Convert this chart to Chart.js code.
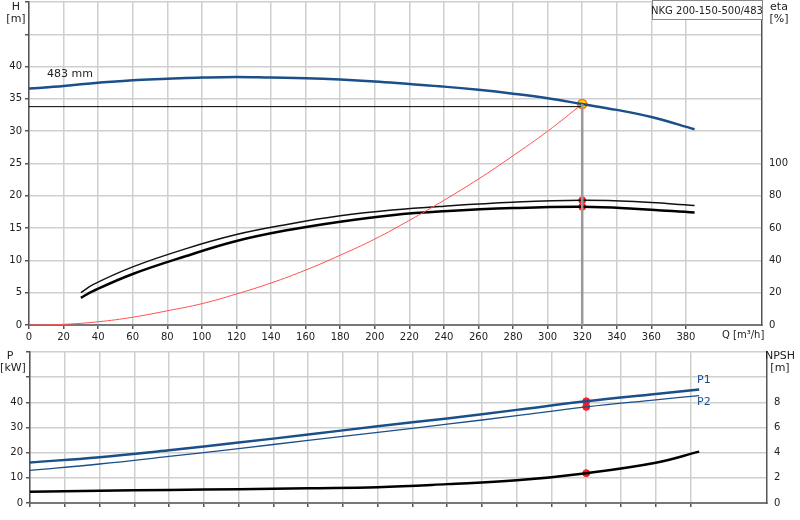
<!DOCTYPE html>
<html><head><meta charset="utf-8">
<script src="https://cdn.jsdelivr.net/npm/chart.js@4.4.1/dist/chart.umd.min.js"></script>
<style>body{margin:0;background:#fff;width:800px;height:520px;position:relative;overflow:hidden;font-family:"DejaVu Sans",sans-serif}
#c1{position:absolute;left:0;top:-7px}#c2{position:absolute;left:0;top:343px}</style></head>
<body><canvas id="c1" width="800" height="352"></canvas><canvas id="c2" width="800" height="177"></canvas>
<script>
// Head curve 483 mm
const qH=[0,20,40,60,80,100,120,140,160,180,200,220,240,260,280,300,320,340,360,385];
const head=[36.6,37.0,37.5,37.9,38.1,38.3,38.4,38.3,38.2,38.0,37.7,37.3,36.9,36.4,35.8,35.1,34.2,33.3,32.2,30.3];
// Efficiency curves (%)
const qEta=[30,37,60,90,120,150,180,210,240,280,320,350,385];
const etaUpper=[20,25,36,47,56,62.4,67.6,71.2,73.6,76,77.2,76.4,74];
const etaLower=[16.8,21,31.6,42.4,52,58.8,64,68,70.4,72.4,73.2,72,69.6];
// System curve
const qSys=[0,20,40,60,80,100,120,140,160,180,200,220,240,260,280,300,320];
const hSys=[0,0.1,0.5,1.2,2.2,3.3,4.8,6.5,8.5,10.8,13.3,16.2,19.3,22.6,26.2,30.0,34.2];
// Power
const qP=[0,40,80,120,160,200,240,280,320,360,385];
const p1=[16.1,18.2,21.0,24.0,27.2,30.5,33.6,37.0,40.4,43.3,45.1];
const p2=[13.0,15.5,18.5,21.6,24.9,28.1,31.3,34.7,38.2,41.0,42.7];
// NPSH
const qN=[0,40,80,120,160,200,240,280,320,360,385];
const npsh=[0.89,0.98,1.04,1.1,1.18,1.26,1.5,1.8,2.37,3.2,4.08];
const dutyQ=320, dutyH=34.2, dutyHline=33.8, dutyEta=[77.2,73.2], dutyP=[40.4,38.2], dutyN=2.37;
const xTicks=[0,20,40,60,80,100,120,140,160,180,200,220,240,260,280,300,320,340,360,380];

const pts=(xs,ys)=>xs.map((x,i)=>({x,y:ys[i]}));
const G='#cfcfcf';
const txt=(items,box)=>({id:'t',afterDraw(c){const g=c.ctx;g.save();g.font='11px "DejaVu Sans"';
 items.forEach(t=>{g.fillStyle=t.c||'#222';g.textAlign=t.a||'left';g.fillText(t.s,t.x,t.y);});
 if(box){g.fillStyle='#fff';g.strokeStyle='#888';g.lineWidth=1;g.fillRect(652.5,7.5,110,19);g.strokeRect(652.5,7.5,110,19);g.fillStyle='#222';g.font='10px "DejaVu Sans"';g.textAlign='center';g.fillText('NKG 200-150-500/483',707,21);}
 g.restore();}});
const fit=(w)=>function(s){s.width=w;};
const xAxis=(labels)=>({type:'linear',min:0,max:424,afterBuildTicks(s){s.ticks=xTicks.map(v=>({value:v}));},
 ticks:{display:labels,autoSkip:false,maxRotation:0,color:'#222',font:{size:10,family:'DejaVu Sans'},padding:2},
 grid:{color:G,lineWidth:1.5,tickLength:4,tickColor:'#555'},border:{color:'#777',width:2}});
const ln=(data,color,w,yID)=>({data,borderColor:color,borderWidth:w,pointRadius:0,tension:0.4,fill:false,yAxisID:yID});

new Chart(document.getElementById('c1'),{type:'line',
 data:{datasets:[
  {data:[{x:dutyQ,y:0},{x:dutyQ,y:dutyH}],borderColor:'#999',borderWidth:2.5,pointRadius:0,yAxisID:'y'},
  {data:[{x:0,y:dutyHline},{x:dutyQ,y:dutyHline}],borderColor:'#000',borderWidth:1,pointRadius:0,yAxisID:'y'},
  ln(pts(qSys,hSys),'#ff5050',1,'y'),
  ln(pts(qEta,etaUpper),'#111',1.5,'e'),
  ln(pts(qEta,etaLower),'#000',2.5,'e'),
  ln(pts(qH,head),'#1a4f8a',2.5,'y'),
  {data:[{x:dutyQ,y:dutyEta[0]},{x:dutyQ,y:dutyEta[1]}],showLine:false,pointRadius:3.5,pointBackgroundColor:'#ff1a1a',pointBorderColor:'#ff1a1a',yAxisID:'e'},
  {data:[{x:dutyQ,y:dutyH}],showLine:false,pointRadius:4.5,pointBackgroundColor:'#ffe000',pointBorderColor:'#ff6a00',pointBorderWidth:1.5,yAxisID:'y'}
 ]},
 options:{animation:false,responsive:false,events:[],layout:{padding:0},plugins:{legend:{display:false},tooltip:{enabled:false}},
  scales:{x:xAxis(true),
   y:{position:'left',min:0,max:50,afterFit:fit(29),ticks:{stepSize:5,color:'#222',font:{size:10,family:'DejaVu Sans'},padding:3,callback:v=>v<=40?v:''},grid:{color:G,lineWidth:1.5,tickLength:4,tickColor:'#555'},border:{color:'#555',width:1.5}},
   e:{position:'right',min:0,max:200,afterFit:fit(38),ticks:{stepSize:20,color:'#222',font:{size:10,family:'DejaVu Sans'},padding:3,callback:v=>v<=100?v:''},grid:{display:false,tickLength:4,tickColor:'#555'},border:{color:'#555',width:1.5}}}},
 plugins:[txt([{s:'H',x:16,y:17,a:'center'},{s:'[m]',x:16,y:29,a:'center'},{s:'eta',x:779,y:17,a:'center'},{s:'[%]',x:779,y:29,a:'center'},{s:'483 mm',x:47,y:84}],true),
  {id:'ql',afterDraw(c){const g=c.ctx;g.save();g.font='10px "DejaVu Sans"';g.fillStyle='#222';g.textAlign='left';g.fillText('Q [m³/h]',722,345);g.restore();}}]
});

new Chart(document.getElementById('c2'),{type:'line',
 data:{datasets:[
  ln(pts(qP,p2),'#1a4f8a',1.3,'p'),
  ln(pts(qP,p1),'#1a4f8a',2.5,'p'),
  ln(pts(qN,npsh),'#000',2.5,'n'),
  {data:[{x:dutyQ,y:dutyP[0]},{x:dutyQ,y:dutyP[1]}],showLine:false,pointRadius:3.5,pointBackgroundColor:'#ff1a1a',pointBorderColor:'#ff1a1a',yAxisID:'p'},
  {data:[{x:dutyQ,y:dutyN}],showLine:false,pointRadius:3.5,pointBackgroundColor:'#ff1a1a',pointBorderColor:'#ff1a1a',yAxisID:'n'}
 ]},
 options:{animation:false,responsive:false,events:[],layout:{padding:{top:1,bottom:0}},plugins:{legend:{display:false},tooltip:{enabled:false}},
  scales:{x:Object.assign(xAxis(false),{afterFit(s){s.height=17;}}),
   p:{position:'left',min:0,max:60,afterFit:fit(30),ticks:{stepSize:10,color:'#222',font:{size:10,family:'DejaVu Sans'},padding:3,callback:v=>v<=40?v:''},grid:{color:G,lineWidth:1.5,tickLength:4,tickColor:'#555'},border:{color:'#555',width:1.5}},
   n:{position:'right',min:0,max:12,afterFit:fit(33),ticks:{stepSize:2,color:'#222',font:{size:10,family:'DejaVu Sans'},padding:3,callback:v=>v<=8?v:''},grid:{display:false,tickLength:4,tickColor:'#555'},border:{color:'#555',width:1.5}}}},
 plugins:[txt([{s:'P',x:10,y:16,a:'center'},{s:'[kW]',x:13,y:28,a:'center'},{s:'NPSH',x:780,y:16,a:'center'},{s:'[m]',x:780,y:28,a:'center'},{s:'P1',x:697,y:40,c:'#1a4f8a'},{s:'P2',x:697,y:62,c:'#1a4f8a'}],false)]
});
</script></body></html>
